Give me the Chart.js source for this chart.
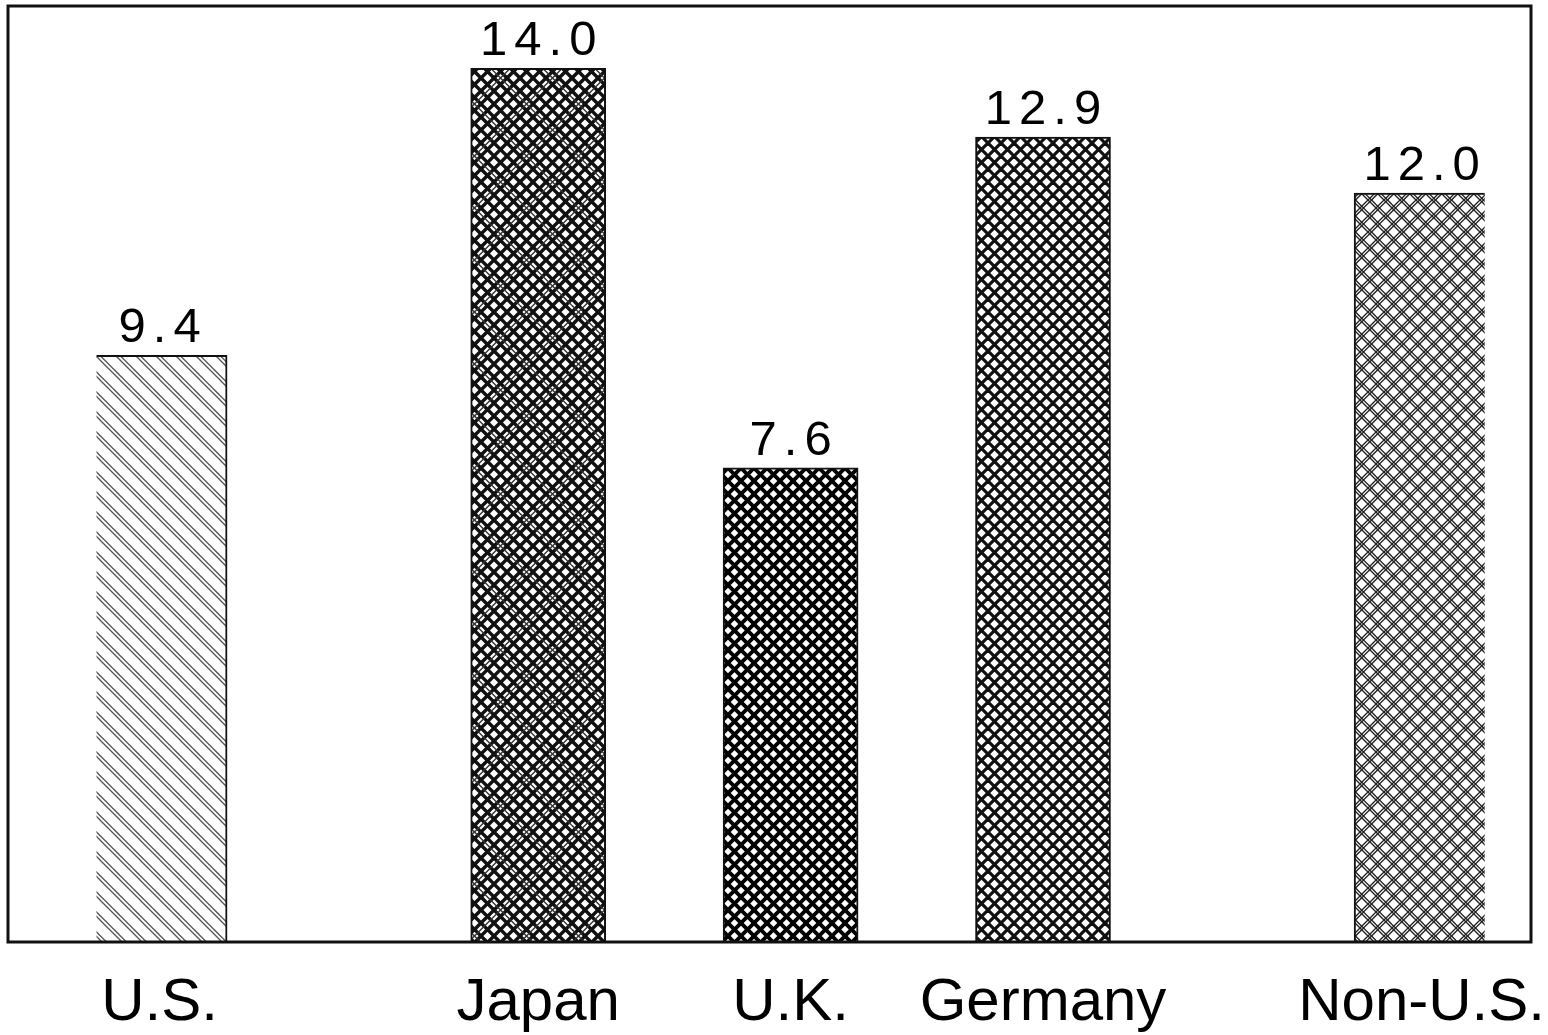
<!DOCTYPE html>
<html>
<head>
<meta charset="utf-8">
<script src="https://cdn.jsdelivr.net/npm/chart.js@4.4.1/dist/chart.umd.min.js"></script>
<style>
  html, body { margin: 0; padding: 0; background: #ffffff; }
  canvas { display: block; }
</style>
</head>
<body>
<canvas id="c" width="1548" height="1035"></canvas>
<script>
// ---- data ----
const categories = ['U.S.', '', '', 'Japan', '', 'U.K.', '', 'Germany', '', '', 'Non-U.S.'];
const values     = [9.4, null, null, 14.0, null, 7.6, null, 12.9, null, null, 12.0];
const yMin = 0;
const yMax = 15;

// ---- hatch patterns ----
function hatchTile(size, layers) {
  const c = document.createElement('canvas');
  c.width = size; c.height = size;
  const g = c.getContext('2d');
  g.fillStyle = '#ffffff';
  g.fillRect(0, 0, size, size);
  layers.forEach(L => {
    g.strokeStyle = L.color;
    g.lineWidth = L.width;
    L.dirs.forEach(dir => {
      (L.offsets || [0]).forEach(off => {
        for (let k = -3 * size; k <= 3 * size; k += L.period) {
          const cc = k + off;
          g.beginPath();
          if (dir === 'back') { g.moveTo(cc - size, -size); g.lineTo(cc + 2 * size, 2 * size); }
          else { g.moveTo(cc + size, -size); g.lineTo(cc - 2 * size, 2 * size); }
          g.stroke();
        }
      });
    });
  });
  return c;
}
const ctx = document.getElementById('c').getContext('2d');
function pat(size, layers) { return ctx.createPattern(hatchTile(size, layers), 'repeat'); }

const pUS = pat(20, [{dirs: ['back'], period: 20, offsets: [0, 4.5], width: 1.3, color: '#555'}]);
const pJP = pat(52, [
  {dirs: ['back', 'fwd'], period: 13, width: 3.4, color: '#111'},
  {dirs: ['back', 'fwd'], period: 52, offsets: [6.5], width: 1.4, color: '#333'}
]);
const pUK = pat(13, [{dirs: ['back', 'fwd'], period: 13, width: 3.8, color: '#000'}]);
const pDE = pat(13, [{dirs: ['back', 'fwd'], period: 13, width: 3.2, color: '#111'}]);
const pNU = pat(16, [{dirs: ['back', 'fwd'], period: 16, offsets: [0, 3.5], width: 1.3, color: '#222'}]);
const fills = [pUS, null, null, pJP, null, pUK, null, pDE, null, null, pNU];

const FONT = '"Liberation Sans", Arial, Helvetica, sans-serif';

const valueLabels = {
  id: 'valueLabels',
  afterDatasetsDraw(chart) {
    const c = chart.ctx;
    const meta = chart.getDatasetMeta(0);
    c.save();
    c.font = '49px ' + FONT;
    c.letterSpacing = '7px';
    c.fillStyle = '#000';
    c.textAlign = 'center';
    c.textBaseline = 'alphabetic';
    meta.data.forEach((bar, i) => {
      const v = values[i];
      if (v === null || v === undefined) return;
      c.fillText(v.toFixed(1), bar.x + 3.5, bar.y - 13);
    });
    c.restore();
  }
};

const frame = {
  id: 'frame',
  afterDatasetsDraw(chart) {
    const a = chart.chartArea;
    const c = chart.ctx;
    c.save();
    c.strokeStyle = '#111';
    c.lineWidth = 3;
    c.strokeRect(a.left - 88.5, a.top, (a.right + 46.3) - (a.left - 88.5), a.bottom - a.top);
    c.restore();
  }
};

new Chart(ctx, {
  type: 'bar',
  data: {
    labels: categories,
    datasets: [{
      data: values,
      backgroundColor: fills,
      borderColor: '#111',
      borderWidth: 2,
      borderSkipped: 'bottom',
      barThickness: 135
    }]
  },
  options: {
    responsive: false,
    animation: false,
    devicePixelRatio: 1,
    layout: { padding: { left: 96.5, right: 63.3, top: 6, bottom: 0 } },
    plugins: { legend: { display: false }, tooltip: { enabled: false } },
    scales: {
      x: {
        grid: { display: false, drawTicks: false },
        border: { display: false },
        ticks: {
          color: '#000',
          font: { family: FONT, size: 60, lineHeight: 1 },
          padding: 31,
          maxRotation: 0,
          autoSkip: false
        },
        afterFit(scale) {
          scale.height = 93;
          scale.paddingLeft = 0;
          scale.paddingRight = 0;
        }
      },
      y: {
        display: false,
        min: yMin,
        max: yMax
      }
    }
  },
  plugins: [valueLabels, frame]
});
</script>
</body>
</html>
